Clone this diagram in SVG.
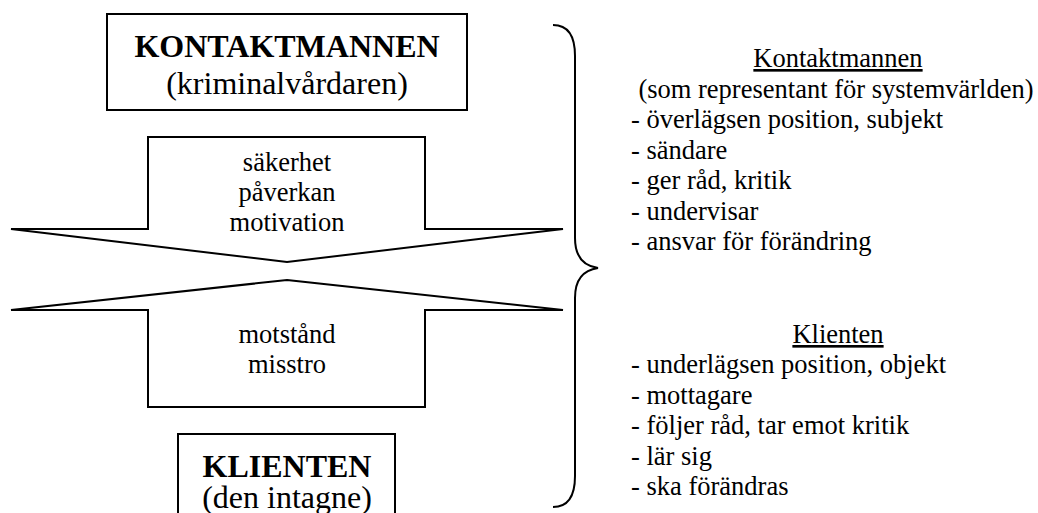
<svg xmlns="http://www.w3.org/2000/svg" width="1038" height="513" viewBox="0 0 1038 513" font-family="'Liberation Serif', 'DejaVu Serif', 'Times New Roman', Times, serif">
  <style>
    .shape { fill: #ffffff; stroke: #000000; stroke-width: 2; stroke-linejoin: miter; }
    .brace { fill: none; stroke: #000000; stroke-width: 2; }
    text { font-family: 'Liberation Serif', 'DejaVu Serif', 'Times New Roman', Times, serif; fill: #000000; }
    .big { font-size: 32px; }
    .bold { font-weight: bold; }
    .mid { font-size: 26.5px; }
    .c { text-anchor: middle; }
    .u { text-decoration: underline; }
  </style>
  <rect width="1038" height="513" fill="#ffffff"/>

  <g id="node-kontaktmannen">
    <rect class="shape" x="107" y="14" width="360" height="96"/>
    <text class="big bold c" x="287" y="57">KONTAKTMANNEN</text>
    <text class="big c" x="287" y="94">(kriminalvårdaren)</text>
  </g>

  <g id="node-klienten">
    <rect class="shape" x="178" y="434" width="217" height="100"/>
    <text class="big bold c" x="287" y="477">KLIENTEN</text>
    <text class="big c" x="287" y="508">(den intagne)</text>
  </g>

  <g id="connectors">
    <g id="arrow-down">
      <polygon class="shape" points="148,137 425,137 425,229 563,229 287,262 11,229 148,229"/>
      <text class="mid c" x="287" y="171">säkerhet</text>
      <text class="mid c" x="287" y="201">påverkan</text>
      <text class="mid c" x="287" y="231">motivation</text>
    </g>
    <g id="arrow-up">
      <polygon class="shape" points="287,280 563,310 425,310 425,407 148,407 148,310 11,310"/>
      <text class="mid c" x="287" y="343">motstånd</text>
      <text class="mid c" x="287" y="373">misstro</text>
    </g>
  </g>

  <g id="brace">
    <path class="brace" d="M553,25 C568,25 575,36 575,56 L575,238 C575,257 584,266 598,268 C584,270 575,279 575,298 L575,476 C575,496 568,507 553,507"/>
  </g>

  <g id="node-kontaktmannen-desc">
    <text class="mid c u" x="838" y="67">Kontaktmannen</text>
    <text class="mid c" x="836" y="98">(som representant för systemvärlden)</text>
    <text class="mid" x="631" y="128">- överlägsen position, subjekt</text>
    <text class="mid" x="631" y="159">- sändare</text>
    <text class="mid" x="631" y="189">- ger råd, kritik</text>
    <text class="mid" x="631" y="220">- undervisar</text>
    <text class="mid" x="631" y="250">- ansvar för förändring</text>
  </g>

  <g id="node-klienten-desc">
    <text class="mid c u" x="838" y="343">Klienten</text>
    <text class="mid" x="631" y="373">- underlägsen position, objekt</text>
    <text class="mid" x="631" y="404">- mottagare</text>
    <text class="mid" x="631" y="434">- följer råd, tar emot kritik</text>
    <text class="mid" x="631" y="465">- lär sig</text>
    <text class="mid" x="631" y="495">- ska förändras</text>
  </g>
</svg>
